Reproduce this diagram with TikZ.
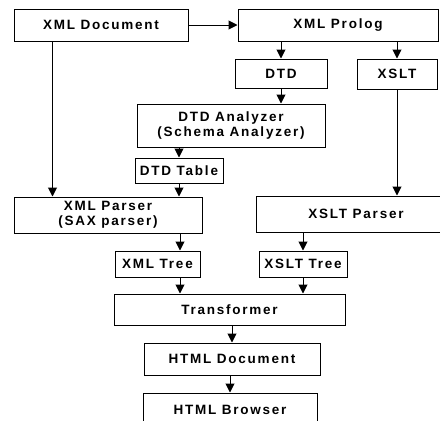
\documentclass[tikz,border=0pt]{standalone}
\usepackage{fontspec}
\setmainfont[LetterSpace=13]{Liberation Sans}
\usepackage{tikz}
\usetikzlibrary{arrows.meta, positioning}
\tikzset{
Box/.style={
	draw, rectangle,
	line width=1pt,
	align=center,
	inner sep=0pt,
	font=\fontsize{13.5}{15}\selectfont\bfseries
},
Arrow/.style={
	draw=black,
	line width=1pt,
	-{Triangle[length=9pt,width=9pt]}
}
}

\begin{document}
\begin{tikzpicture}[x=1pt, y=-1pt]
	\useasboundingbox (0,0) rectangle (440,421);
	\clip (0,0) rectangle (440,421);

	\node[Box, minimum width=174pt, minimum height=32pt] (xmldoc) at (101,25) {XML Document};
	\node[Box, minimum width=200pt, minimum height=32pt] (prolog) at (338,25) {XML Prolog};
	\node[Box, minimum width=92pt, minimum height=29pt] (dtd) at (281,73.5) {DTD};
	\node[Box, minimum width=80pt, minimum height=30pt] (xslt) at (397,74) {XSLT};
	\node[Box, minimum width=188pt, minimum height=43pt] (analyzer) at (231,125.5) {DTD Analyzer\\(Schema Analyzer)};
	\node[Box, minimum width=88pt, minimum height=25pt] (dtdtable) at (179,170.5) {DTD Table};

	\node[Box, minimum width=188pt, minimum height=36pt] (xmlparser) at (108,215) {XML Parser\\(SAX parser)};
	\node[Box, minimum width=200pt, minimum height=36pt] (xsltparser) at (356,214) {XSLT Parser};
	\node[Box, minimum width=85pt, minimum height=26pt] (xmltree) at (157.5,264) {XML Tree};
	\node[Box, minimum width=88pt, minimum height=26pt] (xslttree) at (303,264) {XSLT Tree};

	\node[Box, minimum width=231pt, minimum height=31pt] (transformer) at (229.5,309.5) {Transformer};
	\node[Box, minimum width=176pt, minimum height=32pt] (htmldoc) at (232,359) {HTML Document};
	\node[Box, minimum width=174pt, minimum height=34pt] (browser) at (230,410) {HTML Browser};

	\coordinate (docleft) at ([xshift=39pt]xmldoc.south west);
	\coordinate (treeleft) at ([xshift=22.5pt]xmltree.north);

	\draw[Arrow] (xmldoc) -- (prolog);
	\draw[Arrow] (prolog.south -| dtd.north) -- (dtd.north);
	\draw[Arrow] (prolog.south -| xslt.north) -- (xslt.north);
	\draw[Arrow] (dtd.south) -- (dtd.south |- analyzer.north);
	\draw[Arrow] (dtdtable.north |- analyzer.south) -- (dtdtable.north);
	\draw[Arrow] (dtdtable.south) -- (dtdtable.south |- xmlparser.north);
	\draw[Arrow] (docleft) -- (docleft |- xmlparser.north);
	\draw[Arrow] (xslt.south) -- (xslt.south |- xsltparser.north);
	\draw[Arrow] (treeleft |- xmlparser.south) -- (treeleft);
	\draw[Arrow] (xslttree.north |- xsltparser.south) -- (xslttree.north);
	\draw[Arrow] (treeleft |- xmltree.south) -- (treeleft |- transformer.north);
	\draw[Arrow] (xslttree.south) -- (xslttree.south |- transformer.north);
	\draw[Arrow] (htmldoc.north |- transformer.south) -- (htmldoc.north);
	\draw[Arrow] (browser.north |- htmldoc.south) -- (browser.north);
\end{tikzpicture}
\end{document}
